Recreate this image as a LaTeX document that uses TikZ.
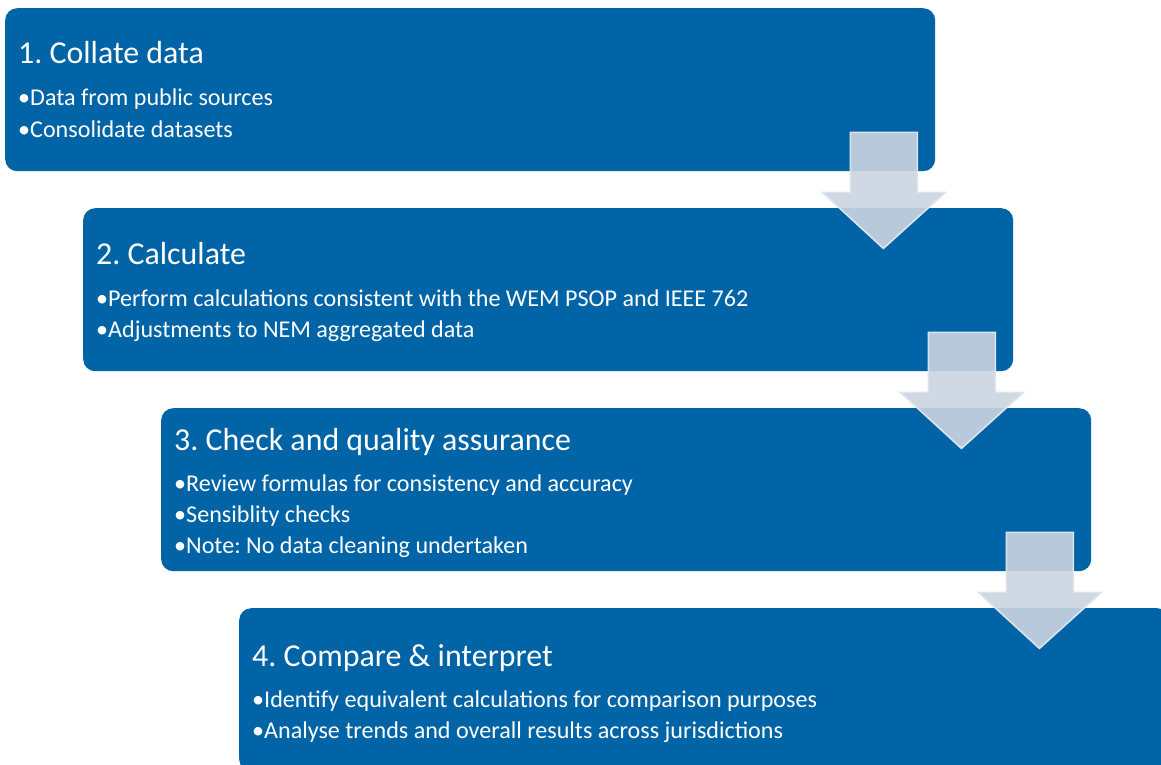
\documentclass[tikz,border=0pt]{standalone}
\usepackage{fontspec}
\setmainfont{Carlito}
\usetikzlibrary{calc}
\definecolor{boxblue}{RGB}{0,100,166}
\definecolor{arrowfill}{RGB}{203,212,225}
\definecolor{arrowedge}{RGB}{222,228,237}
\tikzset{
  stepbox/.style={fill=boxblue, draw=none, rounded corners=12pt, minimum width=930pt, minimum height=163pt, inner sep=0pt, anchor=north west},
  steptitle/.style={text=white, font=\fontsize{31.9}{36}\selectfont, anchor=base west, inner sep=0pt},
  stepitem/.style={text=white, font=\fontsize{24.1}{26}\selectfont, anchor=base west, inner sep=0pt},
  flowarrow/.pic={
    \path[fill=arrowfill, fill opacity=0.9, draw=arrowedge, line width=1.6pt, line join=miter]
      (-85,-39) -- (-18,-39) -- (-18,21) -- (10,21) -- (-52,77) -- (-113,21) -- (-85,21) -- cycle;
  }
}
\frenchspacing
\begin{document}
\begin{tikzpicture}[x=1pt,y=-1pt]
\useasboundingbox (0,0) rectangle (1161,765);
\clip (0,0) rectangle (1161,765);
% boxes
\node[stepbox] (b1) at (5,8) {};
\node[stepbox] (b2) at (83,208) {};
\node[stepbox] (b3) at (161,408) {};
\node[stepbox] (b4) at (239,608) {};
% box 1
\node[steptitle] (t1) at ($(b1.north west)+(13,56)$) {1. Collate data};
\node[stepitem] (i11) at ($(b1.north west)+(13,98)$) {•Data from public sources};
\node[stepitem] (i12) at ($(b1.north west)+(13,129)$) {•Consolidate datasets};
% box 2
\node[steptitle] (t2) at ($(b2.north west)+(13,56)$) {2. Calculate};
\node[stepitem] (i21) at ($(b2.north west)+(13,98)$) {•Perform calculations consistent with the WEM PSOP and IEEE 762};
\node[stepitem] (i22) at ($(b2.north west)+(13,129)$) {•Adjustments to NEM aggregated data};
% box 3
\node[steptitle] (t3) at ($(b3.north west)+(13,42)$) {3. Check and quality assurance};
\node[stepitem] (i31) at ($(b3.north west)+(13,83)$) {•Review formulas for consistency and accuracy};
\node[stepitem] (i32) at ($(b3.north west)+(13,114)$) {•Sensiblity checks};
\node[stepitem] (i33) at ($(b3.north west)+(13,145)$) {•Note: No data cleaning undertaken};
% box 4
\node[steptitle] (t4) at ($(b4.north west)+(13,58)$) {4. Compare \& interpret};
\node[stepitem] (i41) at ($(b4.north west)+(13,99)$) {•Identify equivalent calculations for comparison purposes};
\node[stepitem] (i42) at ($(b4.north west)+(13,130)$) {•Analyse trends and overall results across jurisdictions};
% arrows
\pic at (b1.south east) {flowarrow};
\pic at (b2.south east) {flowarrow};
\pic at (b3.south east) {flowarrow};
\end{tikzpicture}
\end{document}
